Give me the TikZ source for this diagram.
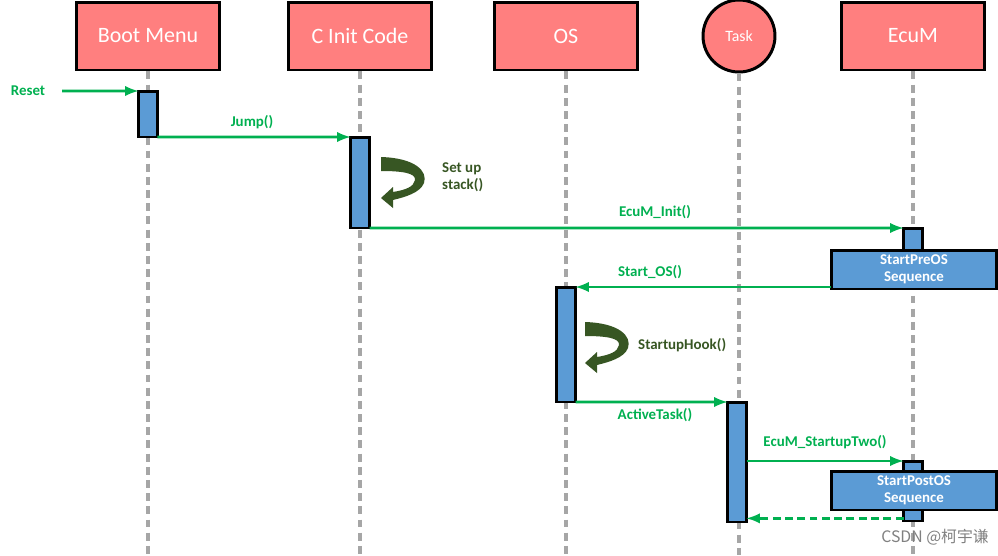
\documentclass[tikz,border=0pt]{standalone}
\usepackage{fontspec}
\setmainfont{Carlito}
\newfontfamily\cjkfont{Noto Sans CJK SC}
\usetikzlibrary{arrows}
\definecolor{hdrpink}{HTML}{FF7F7F}
\definecolor{barblue}{HTML}{5B9BD5}
\definecolor{msggreen}{HTML}{00B050}
\definecolor{hookgreen}{HTML}{375623}
\definecolor{lifegray}{HTML}{A6A6A6}
\tikzset{
    hookarrow/.pic={
        \fill[hookgreen](0,0) .. controls (34,1) and (47,14) .. (43,26) .. controls (39,36) and (24,40) .. (12,43)--(12,51)--(0,41)--(12,30)--(12,35) .. controls (24,33) and (33,30) .. (34,23) .. controls (35,16) and (21,14) .. (0,14)--cycle;
    }
}

\begin{document}
\begin{tikzpicture}[x=0.02cm,y=-0.02cm,
        header/.style={rectangle,draw,line width=1.7pt,fill=hdrpink,text=white,font=\fontsize{12.5}{14}\selectfont,minimum width=2.86cm,minimum height=1.36cm},
        lifeline/.style={draw=lifegray,line width=1.8pt,dash pattern=on 4.5pt off 3pt},
        bar/.style={rectangle,draw,line width=1.7pt,fill=barblue,minimum width=0.38cm,inner sep=0pt,outer sep=0pt},
        phase/.style={rectangle,draw,line width=1.7pt,fill=barblue,text=white,font=\bfseries\fontsize{8.5}{9.5}\selectfont,align=center,minimum width=3.32cm,minimum height=0.78cm,inner sep=0pt,outer sep=0pt},
        msg/.style={-latex,draw=msggreen,line width=1.6pt},
        msglabel/.style={text=msggreen,font=\bfseries\fontsize{8.5}{10}\selectfont},
        hooklabel/.style={text=hookgreen,font=\bfseries\fontsize{8.5}{9.5}\selectfont,align=left,anchor=west}]
        \useasboundingbox(0,0)rectangle(998,555);
        \coordinate(bottom)at(0,555);
        \node[header](bm)at(148,36){Boot Menu};
        \node[header](ci)at(360,36){C Init Code};
        \node[header](os)at(566,36){OS};
        \node[circle,draw,line width=1.7pt,fill=hdrpink,text=white,font=\fontsize{9}{10}\selectfont,minimum size=1.44cm,inner sep=0pt](tk)at(739,36){Task};
        \node[header](ec)at(913,36){EcuM};
        \foreach \n in {bm,ci,os,tk,ec}
            \draw[lifeline](\n.south)--(\n.south |- bottom);
        \node[bar,minimum height=0.92cm](bmA)at(148,114){};
        \node[bar,minimum height=1.82cm](ciA)at(360,182.5){};
        \node[bar,minimum height=1.22cm](e1)at(913,258.5){};
        \node[phase](preos)at(914,269.5){StartPreOS\\Sequence};
        \node[bar,minimum height=2.30cm](osA)at(566,344.5){};
        \node[bar,minimum height=2.40cm](tkA)at(737,462){};
        \node[bar,minimum height=1.20cm](e2)at(913,491){};
        \node[phase](postos)at(914,490.5){StartPostOS\\Sequence};
        \coordinate(resetin)at(62,91);
        \draw[msg](resetin)--(bmA.north west);
        \draw[msg](bmA.south east)--(ciA.north west);
        \draw[msg](ciA.south east)--(e1.north west);
        \draw[msg](preos.west |- osA.north east)--(osA.north east);
        \draw[msg](osA.south east)--(tkA.north west);
        \draw[msg](tkA.east |- e2.north west)--(e2.north west);
        \draw[msg,dash pattern=on 4.5pt off 2.5pt]([yshift=1.5pt]e2.south west)--([yshift=1.5pt]tkA.east |- e2.south west);
        \node[msglabel](lreset)at(28,91){Reset};
        \node[msglabel](ljump)at(252,122){Jump()};
        \node[msglabel](linit)at(655,212){EcuM\_Init()};
        \node[msglabel](lstart)at(650,272){Start\_OS()};
        \node[msglabel](lact)at(655,415){ActiveTask()};
        \node[msglabel](ltwo)at(825,442){EcuM\_StartupTwo()};
        \pic at(381,157){hookarrow};
        \pic at(585,322){hookarrow};
        \node[hooklabel](lstack)at(436,177){Set up\\stack()};
        \node[hooklabel](lhook)at(632,345){StartupHook()};
        \node[text=gray,font=\cjkfont\fontsize{9}{10}\selectfont](mark)at(935,537){CSDN @柯宇谦};
    \end{tikzpicture}
\end{document}
